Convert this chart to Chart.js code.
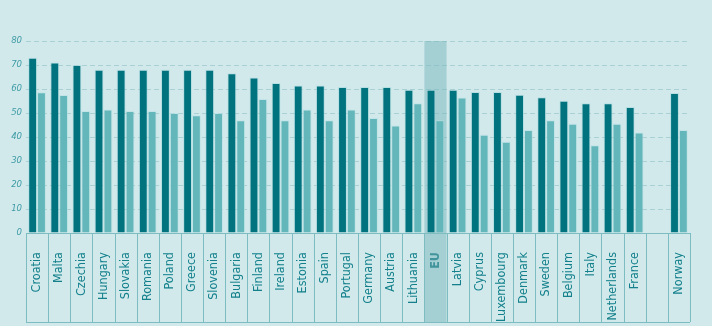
<!DOCTYPE html>
<html><head><meta charset="utf-8">
<script src="https://cdn.jsdelivr.net/npm/chart.js@4.4.1/dist/chart.umd.min.js"></script>
<style>
html,body{margin:0;padding:0;background:#d1e9eb;}
#wrap{width:712px;height:326px;position:relative;}
</style></head><body>
<div id="wrap"><canvas id="c" width="712" height="326"></canvas></div>
<script>
const categories = ['Croatia','Malta','Czechia','Hungary','Slovakia','Romania','Poland','Greece','Slovenia','Bulgaria','Finland','Ireland','Estonia','Spain','Portugal','Germany','Austria','Lithuania','EU','Latvia','Cyprus','Luxembourg','Denmark','Sweden','Belgium','Italy','Netherlands','France','','Norway'];
const seriesA = [73,71,70,68,68,68,68,68,68,66.6,64.8,62.5,61.5,61.5,60.8,60.8,60.8,59.7,59.7,59.7,58.7,58.7,57.6,56.6,55.1,54.1,54.1,52.5,null,58.3];
const seriesB = [58.6,57.5,50.8,51.5,50.8,50.8,50,49.1,50,47,55.8,47,51.5,47,51.5,47.9,44.8,54.1,47,56.5,40.9,38,42.9,47,45.5,36.6,45.5,41.9,null,42.9];
const yTicks = [0,10,20,30,40,50,60,70,80];
const highlight = 'EU';

const BOTTOM = 322;
const lineColor = '#7dbcc1';
const FONT = "'Liberation Sans Narrow','DejaVu Sans Condensed',sans-serif";

const boxes = {
  id:'boxes',
  beforeDraw(chart){
    const {ctx} = chart;
    ctx.save(); ctx.fillStyle='#d1e9eb'; ctx.fillRect(0,0,chart.width,chart.height); ctx.restore();
  },
  beforeDatasetsDraw(chart){
    const {ctx, chartArea} = chart;
    const x = chart.scales.x;
    const i = categories.indexOf(highlight);
    const w = (chartArea.right-chartArea.left)/categories.length;
    const cx = x.getPixelForValue(i);
    ctx.save();
    ctx.fillStyle='rgba(120,183,189,0.5)';
    ctx.fillRect(cx-w/2, chartArea.top, w, BOTTOM-chartArea.top);
    ctx.restore();
  },
  afterDraw(chart){
    const {ctx, chartArea} = chart;
    const n = categories.length;
    const w = (chartArea.right-chartArea.left)/n;
    ctx.save();
    ctx.strokeStyle=lineColor; ctx.lineWidth=1;
    ctx.beginPath();
    for(let i=0;i<=n;i++){
      const xx = Math.round(chartArea.left+i*w)+0.5;
      ctx.moveTo(xx, chartArea.bottom); ctx.lineTo(xx, BOTTOM);
    }
    ctx.moveTo(chartArea.left, BOTTOM+0.5); ctx.lineTo(chartArea.right, BOTTOM+0.5);
    ctx.moveTo(chartArea.left, Math.round(chartArea.bottom)+0.5); ctx.lineTo(chartArea.right, Math.round(chartArea.bottom)+0.5);
    ctx.stroke();
    ctx.restore();
  }
};

new Chart(document.getElementById('c'), {
  type:'bar',
  data:{
    labels: categories,
    datasets:[
      {label:'A', data:seriesA, backgroundColor:'#00737f', borderColor:'rgba(160,215,220,0.55)', borderWidth:{top:1,left:1,right:1,bottom:0}, barPercentage:1, categoryPercentage:0.8},
      {label:'B', data:seriesB, backgroundColor:'#63b6ba', borderColor:'rgba(180,225,228,0.6)', borderWidth:{top:1,left:1,right:1,bottom:0}, barPercentage:1, categoryPercentage:0.8}
    ]
  },
  options:{
    responsive:false, animation:false, devicePixelRatio:1,
    layout:{padding:{top:41,right:22,bottom:4,left:0}},
    plugins:{legend:{display:false}, tooltip:{enabled:false}},
    scales:{
      x:{
        grid:{display:false},
        border:{display:false},
        ticks:{
          autoSkip:false, maxRotation:90, minRotation:90, padding:11,
          color:(c)=> categories[c.index]===highlight ? '#0b6f7b' : '#13808c',
          font:(c)=>({family:FONT, size:12.5, weight: categories[c.index]===highlight?'bold':'normal'})
        },
        afterFit(s){ s.height = 89; }
      },
      y:{
        min:0, max:80,
        afterBuildTicks(s){ s.ticks = yTicks.map(v=>({value:v})); },
        grid:{color:'#a9d0d4', lineWidth:1, drawTicks:false},
        border:{display:false, dash:[5,3]},
        ticks:{padding:4, color:'#3f9ba6', font:{family:FONT, size:9.5, style:'italic'}},
        afterFit(s){ s.width = 26; }
      }
    }
  },
  plugins:[boxes]
});
</script>
</body></html>
